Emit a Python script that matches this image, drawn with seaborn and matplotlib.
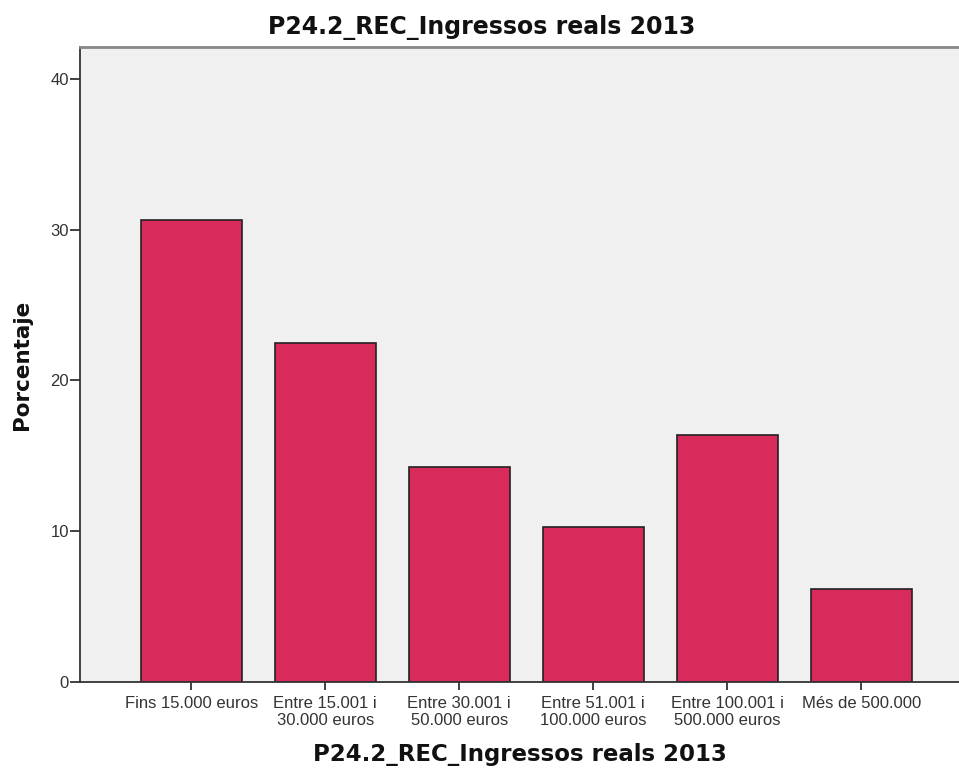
import pandas as pd
import seaborn as sns
import matplotlib.pyplot as plt

categories = [
    "Fins 15.000 euros",
    "Entre 15.001 i\n30.000 euros",
    "Entre 30.001 i\n50.000 euros",
    "Entre 51.001 i\n100.000 euros",
    "Entre 100.001 i\n500.000 euros",
    "Més de 500.000",
]
percentages = [30.6, 22.46, 14.28, 10.26, 16.36, 6.17]
y_ticks = [0, 10, 20, 30, 40]

title = "P24.2_REC_Ingressos reals 2013"

sns.set_style("ticks")
plt.rcParams["font.family"] = ["Liberation Sans", "DejaVu Sans"]

df = pd.DataFrame({"categoria": categories, "porcentaje": percentages})

fig = plt.figure(figsize=(9.59, 7.69), dpi=100)
ax = fig.add_axes([80 / 959, 87 / 769, 879 / 959, 635 / 769])
ax.set_facecolor("#f0f0f0")

sns.barplot(
    data=df,
    x="categoria",
    y="porcentaje",
    color="#d92a5c",
    saturation=1,
    width=0.755,
    edgecolor="#222222",
    linewidth=1.2,
    ax=ax,
)

ax.set_xlim(-0.83, 5.73)
ax.set_ylim(0, 42.1)
ax.set_yticks(y_ticks)

for side in ["left", "bottom"]:
    ax.spines[side].set_color("#333333")
    ax.spines[side].set_linewidth(1.3)
ax.spines["top"].set_color("#888888")
ax.spines["top"].set_linewidth(2)
ax.spines["right"].set_visible(False)

ax.tick_params(axis="both", colors="#333333", labelcolor="#333333",
               labelsize=12, width=1.3)
ax.tick_params(axis="y", length=7, pad=1)
ax.tick_params(axis="x", length=6, pad=4)
for lbl in ax.get_xticklabels():
    lbl.set_linespacing(1.2)

# label positions in axes fractions (axes: left 80px, bottom 87px from figure bottom)
ax.set_ylabel("Porcentaje", fontsize=15.5, fontweight="bold",
              family="DejaVu Sans", color="#111111")
ax.yaxis.set_label_coords((22 - 80) / 879, 0.5)
ax.yaxis.label.set_va("center")
ax.set_xlabel(title, fontsize=16.5, fontweight="bold",
              family="DejaVu Sans", color="#111111")
ax.xaxis.set_label_coords(0.5, ((769 - 755) - 87) / 635)
ax.xaxis.label.set_va("center")

fig.text(482 / 959, 1 - 28 / 769, title, ha="center", va="center",
         fontsize=17, fontweight="bold", family="DejaVu Sans", color="#111111")

plt.savefig("out.png", dpi=100)
plt.close()
